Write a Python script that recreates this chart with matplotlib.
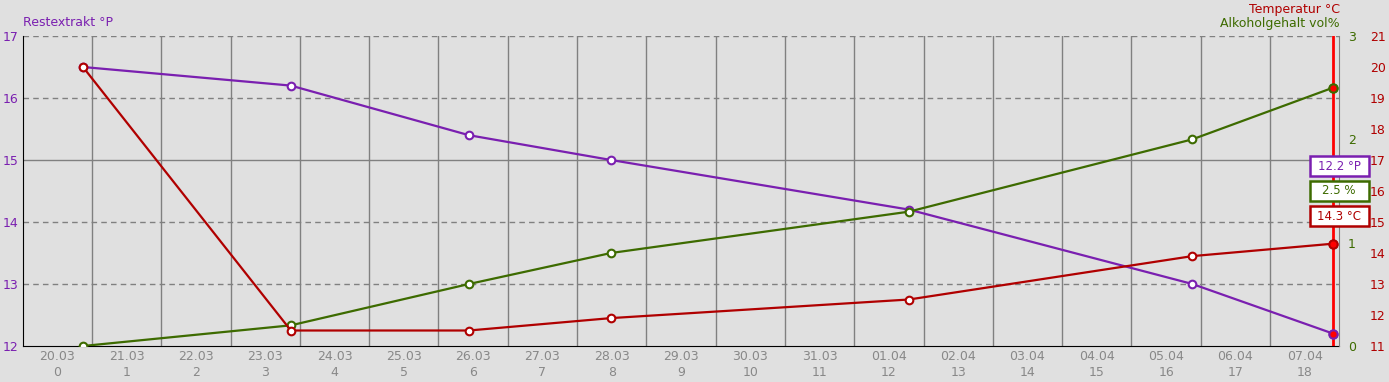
import matplotlib.pyplot as plt
from matplotlib.patches import Rectangle

# data (x = days since 20.03 00:00)
days = [0.87, 3.87, 6.44, 8.49, 12.79, 16.88, 18.91]
extrakt = [16.5, 16.2, 15.4, 15.0, 14.2, 13.0, 12.2]
alkohol = [0.0, 0.2, 0.6, 0.9, 1.3, 2.0, 2.5]
temperatur = [20.0, 11.5, 11.5, 11.9, 12.5, 13.9, 14.3]
dates = ["20.03", "21.03", "22.03", "23.03", "24.03", "25.03", "26.03",
         "27.03", "28.03", "29.03", "30.03", "31.03", "01.04", "02.04",
         "03.04", "04.04", "05.04", "06.04", "07.04"]

PURPLE = "#7a1fb0"
GREEN = "#3d6b00"
RED = "#b00000"
BG = "#e0e0e0"
GRID = "#808080"

fig = plt.figure(figsize=(13.89, 3.82), dpi=100, facecolor=BG)
ax = fig.add_axes([22.7 / 1389, 36 / 382, (1339.3 - 22.7) / 1389, 310 / 382])
ax.set_facecolor(BG)
ax.set_xlim(0, len(dates))
ax.set_ylim(12, 17)

# grid
for v in [13, 14, 16, 17]:
    ax.axhline(v, color=GRID, lw=1, ls=(0, (4, 3)), zorder=1)
ax.axhline(15, color=GRID, lw=1, zorder=1)
for d in range(1, len(dates)):
    ax.axvline(d, color=GRID, lw=1, zorder=1)

ax.set_xticks([i + 0.5 for i in range(len(dates))])
ax.set_xticklabels([f"{d}\n{i}" for i, d in enumerate(dates)], color="#888888",
                   fontsize=9, linespacing=1.25)
ax.set_yticks([12, 13, 14, 15, 16, 17])
ax.tick_params(axis="y", colors=PURPLE, labelsize=9, length=0, pad=3)
ax.tick_params(axis="x", length=0, pad=3)
for s in ["top", "right"]:
    ax.spines[s].set_visible(False)
ax.spines["left"].set_color("black")
ax.spines["bottom"].set_color("black")

ax2 = ax.twinx()
ax2.set_ylim(0, 3)
ax2.set_yticks([0, 1, 2, 3])
ax2.tick_params(axis="y", colors=GREEN, labelsize=9, length=0, pad=6)
ax3 = ax.twinx()
ax3.set_ylim(11, 21)
ax3.set_yticks(range(11, 22))
ax3.tick_params(axis="y", colors=RED, labelsize=9, length=0, pad=22)
for a in (ax2, ax3):
    for s in ["top", "left", "bottom"]:
        a.spines[s].set_visible(False)
    a.spines["right"].set_color(GRID)
ax3.spines["right"].set_visible(False)

# current-time marker
ax.axvline(days[-1], color="#ff0000", lw=2, zorder=2)

mk = dict(marker="o", markersize=5.5, markerfacecolor="white", markeredgewidth=1.5, lw=1.6)
ax.plot(days, extrakt, color=PURPLE, zorder=3, **mk)
ax2.plot(days, alkohol, color=GREEN, zorder=4, **mk)
ax3.plot(days, temperatur, color=RED, zorder=5, **mk)
ax.plot(days[-1], extrakt[-1], "o", color=PURPLE, markerfacecolor="#ff0000",
        markersize=6, markeredgewidth=1.5, zorder=6)
ax2.plot(days[-1], alkohol[-1], "o", color=GREEN, markerfacecolor="#ff0000",
         markersize=6, markeredgewidth=1.5, zorder=6)
ax3.plot(days[-1], temperatur[-1], "o", color=RED, markerfacecolor="#ff0000",
         markersize=6, markeredgewidth=1.5, zorder=6)

# axis titles
fig.text(23 / 1389, 1 - 23 / 382, "Restextrakt °P", color=PURPLE, fontsize=9, va="center")
fig.text(1340 / 1389, 1 - 9 / 382, "Temperatur °C", color=RED, fontsize=9, va="center", ha="right")
fig.text(1340 / 1389, 1 - 23 / 382, "Alkoholgehalt vol%", color=GREEN, fontsize=9, va="center", ha="right")

# value badges
badges = [(f"{extrakt[-1]} °P", PURPLE, 166), (f"{alkohol[-1]} %", GREEN, 191),
          (f"{temperatur[-1]} °C", RED, 216)]
for txt, col, yc in badges:
    fig.patches.append(Rectangle((1309.5 / 1389, 1 - (yc + 10) / 382), 59 / 1389, 20 / 382,
                                 transform=fig.transFigure, facecolor="white",
                                 edgecolor=col, lw=1.8, zorder=10))
    fig.text(1339 / 1389, 1 - yc / 382, txt, color=col, fontsize=8.5,
             ha="center", va="center", zorder=11)

fig.savefig("out.png", dpi=100, facecolor=BG)
